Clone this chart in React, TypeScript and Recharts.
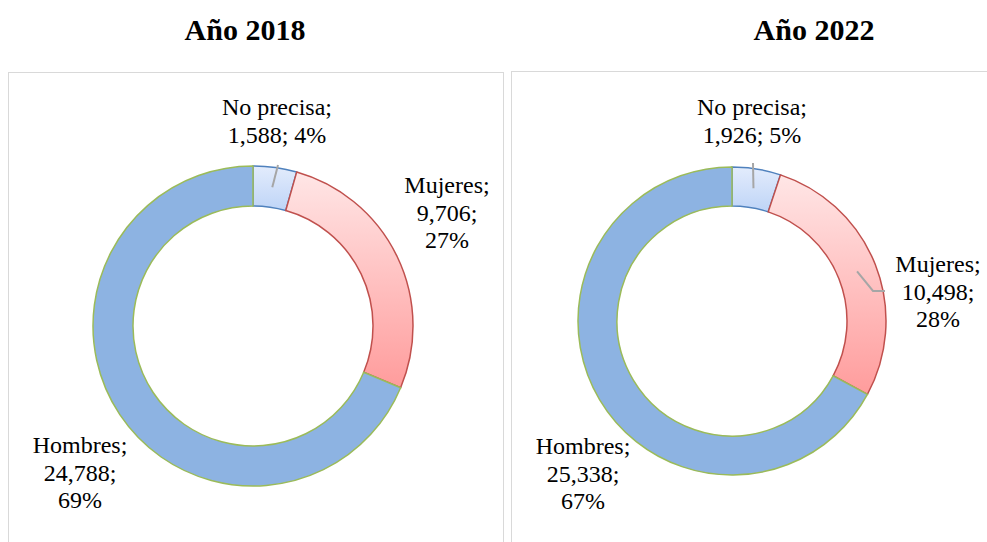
import React from 'react';
import { PieChart, Pie, Cell } from 'recharts';

const categories = ['No precisa', 'Mujeres', 'Hombres'];
const values2018 = [1588, 9706, 24788];
const values2022 = [1926, 10498, 25338];
const years = ['Año 2018', 'Año 2022'];

const data2018 = categories.map((name, i) => ({ name, value: values2018[i] }));
const data2022 = categories.map((name, i) => ({ name, value: values2022[i] }));

const FILLS = ['url(#gradNP)', 'url(#gradMuj)', '#8DB3E2'];
const STROKES = ['#4F81BD', '#C0504D', '#9BBB59'];
const FONT = '"Liberation Serif", "Times New Roman", serif';
const RAD = Math.PI / 180;

type LabelCfg = {
  pos: [number, number][]; // label offsets from centre (x, first baseline)
  twoLine: boolean[];
  leaders: ([number, number][] | null)[]; // start points offsets from centre
};

const cfg2018: LabelCfg = {
  pos: [[24, -211], [194, -133], [-173, 127]],
  twoLine: [true, false, false],
  leaders: [[[25, -161]], null, null],
};
const cfg2022: LabelCfg = {
  pos: [[20, -206], [206, -49], [-149, 133]],
  twoLine: [true, false, false],
  leaders: [[[21, -158]], [[153, -30], [141, -30]], null],
};

const makeLabel = (c: LabelCfg) => (props: any) => {
  const { cx, cy, midAngle, innerRadius, outerRadius, index, name, value, percent } = props;
  const [ox, oy] = c.pos[index];
  const x = cx + ox;
  const y = cy + oy;
  const valStr = Number(value).toLocaleString('en-US');
  const pct = `${Math.round(percent * 100)}%`;
  const lines = c.twoLine[index]
    ? [`${name};`, `${valStr}; ${pct}`]
    : [`${name};`, `${valStr};`, pct];
  const lead = c.leaders[index];
  let path: string | null = null;
  if (lead) {
    const mr = (innerRadius + outerRadius) / 2;
    const ex = cx + mr * Math.cos(-midAngle * RAD);
    const ey = cy + mr * Math.sin(-midAngle * RAD);
    const pts = lead.map(([px, py]) => `${cx + px},${cy + py}`);
    path = `M${pts.join(' L')} L${ex},${ey}`;
  }
  return (
    <g key={`lbl-${index}`}>
      {path && <path d={path} stroke="#A6A6A6" strokeWidth={2} fill="none" />}
      <text
        x={x}
        y={y}
        textAnchor="middle"
        style={{ fontFamily: FONT, fontSize: 24, fill: '#000' }}
      >
        {lines.map((l, k) => (
          <tspan key={k} x={x} dy={k === 0 ? 0 : 27.5} style={{ fontFamily: FONT }}>
            {l}
          </tspan>
        ))}
      </text>
    </g>
  );
};

const titleStyle: React.CSSProperties = {
  position: 'absolute',
  top: 12,
  width: 200,
  textAlign: 'center',
  fontFamily: FONT,
  fontWeight: 'bold',
  fontSize: 30,
  lineHeight: '36px',
};

export default function App() {
  return (
    <div style={{ position: 'absolute', left: 0, top: 0, width: 987, height: 542, overflow: 'hidden', background: '#fff' }}>
      <svg width={0} height={0} style={{ position: 'absolute' }}>
        <defs>
          <linearGradient id="gradMuj" x1="0" y1="0" x2="0" y2="1">
            <stop offset="0%" stopColor="#FFE6E6" />
            <stop offset="100%" stopColor="#FF9C9C" />
          </linearGradient>
          <linearGradient id="gradNP" x1="0" y1="0" x2="0" y2="1">
            <stop offset="0%" stopColor="#E3ECFC" />
            <stop offset="100%" stopColor="#BED4F7" />
          </linearGradient>
        </defs>
      </svg>
      <div style={{ position: 'absolute', left: 8, top: 72, width: 494, height: 500, border: '1px solid #D9D9D9' }} />
      <div style={{ position: 'absolute', left: 511, top: 71, width: 500, height: 500, border: '1px solid #D9D9D9' }} />
      <div style={{ ...titleStyle, left: 145 }}>{years[0]}</div>
      <div style={{ ...titleStyle, left: 714 }}>{years[1]}</div>
      <div style={{ position: 'absolute', left: 0, top: 0 }}>
        <PieChart width={987} height={542} margin={{ top: 0, right: 0, bottom: 0, left: 0 }}>
          <Pie
            data={data2018}
            dataKey="value"
            nameKey="name"
            cx={253}
            cy={326}
            innerRadius={120}
            outerRadius={160}
            startAngle={90}
            endAngle={-270}
            isAnimationActive={false}
            labelLine={false}
            label={makeLabel(cfg2018)}
          >
            {data2018.map((d, i) => (
              <Cell key={d.name} fill={FILLS[i]} stroke={STROKES[i]} strokeWidth={1.5} />
            ))}
          </Pie>
          <Pie
            data={data2022}
            dataKey="value"
            nameKey="name"
            cx={732}
            cy={321}
            innerRadius={115}
            outerRadius={154}
            startAngle={90}
            endAngle={-270}
            isAnimationActive={false}
            labelLine={false}
            label={makeLabel(cfg2022)}
          >
            {data2022.map((d, i) => (
              <Cell key={d.name} fill={FILLS[i]} stroke={STROKES[i]} strokeWidth={1.5} />
            ))}
          </Pie>
        </PieChart>
      </div>
    </div>
  );
}
